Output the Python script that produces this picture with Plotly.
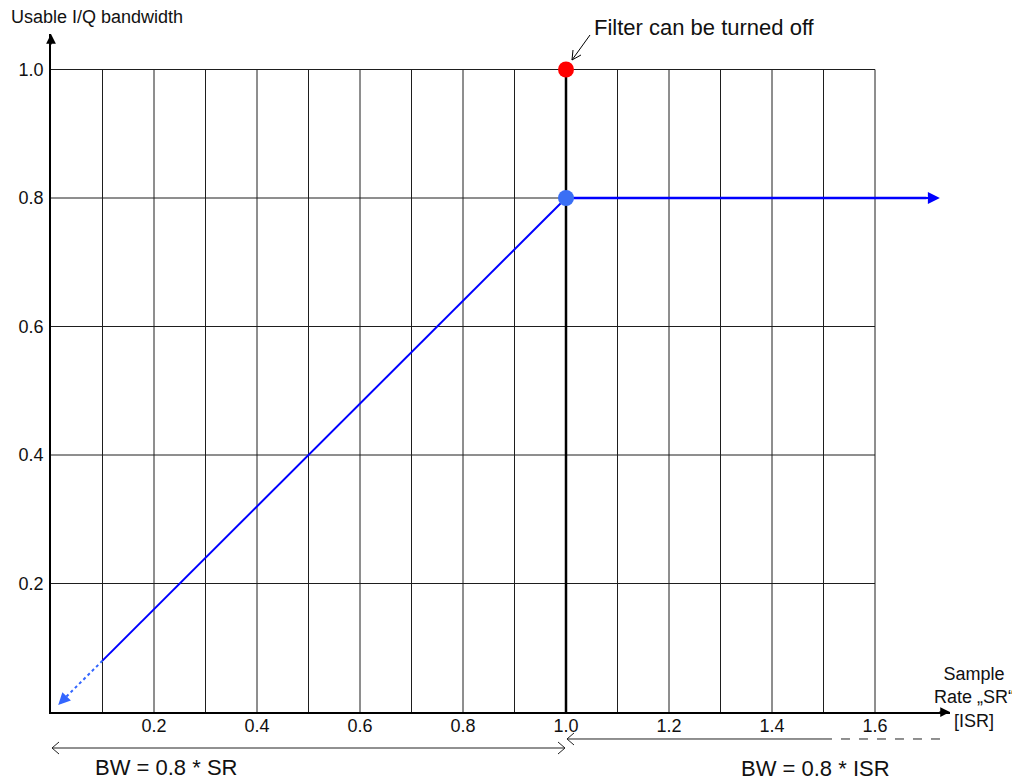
import plotly.graph_objects as go

# usable I/Q bandwidth vs. sample rate
x_ticks = [0.2, 0.4, 0.6, 0.8, 1.0, 1.2, 1.4, 1.6]
y_ticks = [0.2, 0.4, 0.6, 0.8, 1.0]
grid_x = [0.1, 0.2, 0.3, 0.4, 0.5, 0.6, 0.7, 0.8, 0.9, 1.1, 1.2, 1.3, 1.4, 1.5, 1.6]
grid_y = [0.2, 0.4, 0.6, 0.8, 1.0]

ramp_x = [0.1, 1.0]
ramp_y = [0.08, 0.8]
ramp_dotted_x = [0.1, 0.03]
ramp_dotted_y = [0.08, 0.024]
ramp_head = (0.014, 0.011)
flat_x = [1.0, 1.70]
flat_y = [0.8, 0.8]
flat_head = (1.726, 0.8)
off_point = (1.0, 1.0)
knee_point = (1.0, 0.8)

FONT = "Arial, Liberation Sans, sans-serif"
GRID = "#1e1e1e"
INK = "#222222"

# page body has an 8px margin, so the figure starts at (8, 8) on screen
OFF = 8
# plot area on screen: x 51..950, y 34..712
L, T = 51 - OFF, 34 - OFF
PW, PH = 899, 678
R, B = 1020 - L - PW, 780 - T - PH


def px(x):
    return (x - OFF - L) / PW


def py(y):
    return (T + PH - (y - OFF)) / PH


def polyline(points, color=INK, width=1, dash="solid"):
    """Open path through screen points, drawn in paper coords."""
    d = "M " + " L ".join(f"{px(a):.5f},{py(b):.5f}" for a, b in points)
    return dict(type="path", xref="paper", yref="paper", path=d,
                line=dict(color=color, width=width, dash=dash))


fig = go.Figure()

gx, gy = [], []
for v in grid_x:
    gx += [v, v, None]
    gy += [0, grid_y[-1], None]
for v in grid_y:
    gx += [0, grid_x[-1], None]
    gy += [v, v, None]
fig.add_trace(go.Scatter(x=gx, y=gy, mode="lines",
                         line=dict(color=GRID, width=1), hoverinfo="skip"))

# thick line at SR = 1.0
fig.add_trace(go.Scatter(x=[1.0, 1.0], y=[0, 1.0], mode="lines",
                         line=dict(color="#000000", width=2.5), hoverinfo="skip"))

fig.add_trace(go.Scatter(x=ramp_x, y=ramp_y, mode="lines",
                         line=dict(color="#0000ff", width=2)))
fig.add_trace(go.Scatter(x=ramp_dotted_x, y=ramp_dotted_y, mode="lines",
                         line=dict(color="#3366ff", width=2, dash="dot")))
fig.add_trace(go.Scatter(x=flat_x, y=flat_y, mode="lines",
                         line=dict(color="#0000ff", width=2.5)))

fig.add_trace(go.Scatter(x=[off_point[0]], y=[off_point[1]], mode="markers",
                         marker=dict(color="#ff0000", size=16)))
fig.add_trace(go.Scatter(x=[knee_point[0]], y=[knee_point[1]], mode="markers",
                         marker=dict(color="#3a6ff5", size=16)))

ann = []
# blue arrowheads
ann.append(dict(x=ramp_head[0], y=ramp_head[1], ax=ramp_dotted_x[1], ay=ramp_dotted_y[1],
                xref="x", yref="y", axref="x", ayref="y", text="", showarrow=True,
                arrowhead=2, arrowsize=1.2, arrowwidth=2, arrowcolor="#3366ff"))
ann.append(dict(x=flat_head[0], y=flat_head[1], ax=flat_x[1] - 0.03, ay=flat_y[1],
                xref="x", yref="y", axref="x", ayref="y", text="", showarrow=True,
                arrowhead=2, arrowsize=1.2, arrowwidth=2, arrowcolor="#0000ff"))

# axis arrowheads
ann.append(dict(x=0, y=1, xref="paper", yref="paper", ax=0, ay=12, text="",
                showarrow=True, arrowhead=2, arrowsize=1.3, arrowwidth=1.5,
                arrowcolor="#000000"))
ann.append(dict(x=1, y=0, xref="paper", yref="paper", ax=-12, ay=0, text="",
                showarrow=True, arrowhead=2, arrowsize=1.3, arrowwidth=1.5,
                arrowcolor="#000000"))

text_style = dict(xref="paper", yref="paper", showarrow=False)
ann.append(dict(x=px(592), y=py(28), xanchor="left", yanchor="middle",
                text="Filter can be turned off",
                font=dict(size=22, color="#111111", family=FONT), **text_style))
ann.append(dict(x=px(9), y=py(17), xanchor="left", yanchor="middle",
                text="Usable I/Q bandwidth",
                font=dict(size=18, color="#111111", family=FONT), **text_style))
ann.append(dict(x=px(974), y=py(697), xanchor="center", yanchor="middle",
                text="Sample<br>Rate „SR“<br>[ISR]",
                font=dict(size=18, color="#111111", family=FONT), **text_style))
ann.append(dict(x=px(166), y=py(767), xanchor="center", yanchor="middle",
                text="BW = 0.8 * SR",
                font=dict(size=22, color="#111111", family=FONT), **text_style))
ann.append(dict(x=px(815), y=py(768), xanchor="center", yanchor="middle",
                text="BW = 0.8 * ISR",
                font=dict(size=22, color="#111111", family=FONT), **text_style))

shapes = [
    # "filter can be turned off" pointer
    polyline([(590, 35), (572, 60)], color="#000000"),
    polyline([(581, 55), (572, 60), (573, 50)], color="#000000"),
    # BW = 0.8 * SR range
    polyline([(52, 748), (565, 748)]),
    polyline([(59, 742), (52, 748), (59, 754)]),
    polyline([(558, 742), (565, 748), (558, 754)]),
    # BW = 0.8 * ISR range
    polyline([(567, 739), (823, 739)]),
    polyline([(574, 733), (567, 739), (574, 745)]),
    polyline([(823, 739), (940, 739)], dash="dash"),
]

fig.update_layout(
    width=1020, height=780,
    margin=dict(l=L, r=R, t=T, b=B),
    paper_bgcolor="white", plot_bgcolor="white",
    showlegend=False,
    font=dict(family=FONT, size=18, color="#111111"),
    annotations=ann, shapes=shapes,
)
fig.update_xaxes(range=[0, PW / 515], showgrid=False, zeroline=False,
                 showline=True, linecolor="#000000", linewidth=1.5,
                 tickvals=x_ticks, ticktext=[f"{v:.1f}" for v in x_ticks],
                 ticks="", ticklabelstandoff=-3,
                 tickfont=dict(size=18, color="#111111"))
fig.update_yaxes(range=[0, PH / 642.5], showgrid=False, zeroline=False,
                 showline=True, linecolor="#000000", linewidth=1.5,
                 tickvals=y_ticks, ticktext=[f"{v:.1f}" for v in y_ticks],
                 ticks="", ticklabelstandoff=2,
                 tickfont=dict(size=18, color="#111111"))

fig.write_html("out.html")
